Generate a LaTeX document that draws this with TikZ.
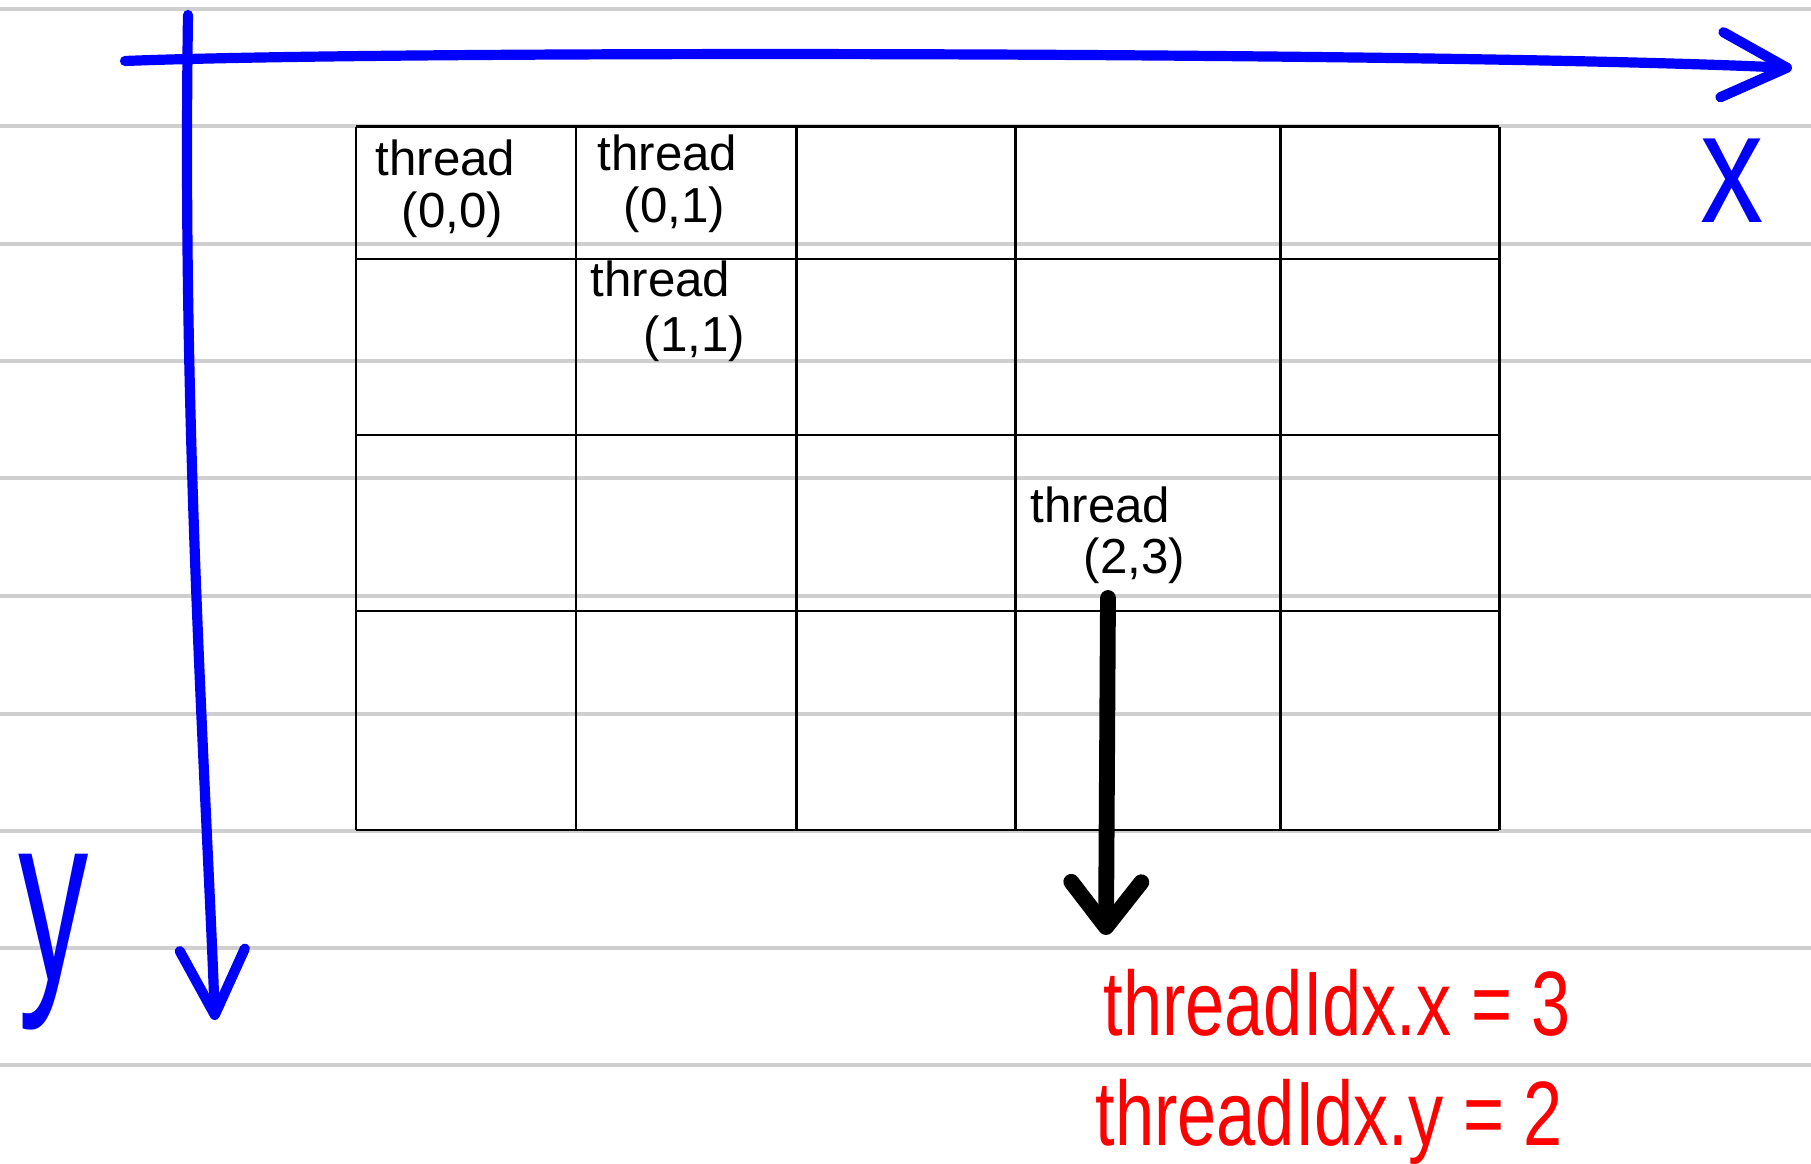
\documentclass[tikz,border=0pt]{standalone}
\usepackage{fontspec}
\setmainfont{Liberation Sans}
\usepackage{graphicx}
\usetikzlibrary{arrows.meta, positioning}
\definecolor{penBlue}{HTML}{0000FF}
\definecolor{penRed}{HTML}{FF0000}
\definecolor{ruleGray}{HTML}{CFCFCF}
\newcommand{\tallish}[2]{\scalebox{1}[#1]{#2}}

\begin{document}
\begin{tikzpicture}[
  x=0.01cm, y=-0.01cm,
  ruleline/.style={draw=ruleGray, line width=0.9pt},
  gridline/.style={draw=black, line width=0.85pt},
  axis/.style={draw=penBlue, line width=2.9pt, line cap=round,
    -{Straight Barb[length=6.5mm, width=6.5mm, round]}},
  pointer/.style={draw=black, line width=4.5pt, line cap=round,
    -{Straight Barb[length=4.5mm, width=7mm, round]}},
  threadtxt/.style={font=\fontsize{14}{16}\selectfont, anchor=base west, inner sep=0pt},
  axistxt/.style={text=penBlue, font=\fontsize{36}{40}\selectfont, inner sep=0pt},
  idxtxt/.style={text=penRed, font=\fontsize{20}{24}\selectfont, anchor=base west, inner sep=0pt},
]
\fill[white] (0,0) rectangle (1811,1164);
\useasboundingbox (0,0) rectangle (1811,1164);

% notebook rules
\foreach \ry in {9,126,244,361,478,596,714,831,948,1065}
  \draw[ruleline] (0,\ry) -- (1811,\ry);

% thread grid
\foreach \gx in {356,576,796,1015,1280,1499}
  \draw[gridline] (\gx,127) -- (\gx,830);
\foreach \gy in {127,259,435,611,830}
  \draw[gridline] (356,\gy) -- (1499,\gy);

% cell labels
\node[threadtxt] (th00) at (375,176) {thread};
\node[threadtxt] (id00) at (401,228) {(0,0)};
\node[threadtxt] (th01) at (597,171) {thread};
\node[threadtxt] (id01) at (623,223) {(0,1)};
\node[threadtxt] (th11) at (590,297) {thread};
\node[threadtxt] (id11) at (643,352) {(1,1)};
\node[threadtxt] (th23) at (1030,523) {thread};
\node[threadtxt] (id23) at (1083,574) {(2,3)};

% axes
\coordinate (xstart) at (125,61);
\coordinate (xend) at (1792,68);
\coordinate (ystart) at (188,15);
\coordinate (yend) at (215,1020);
\draw[axis] (xstart) .. controls (400,50) and (1450,52) .. (xend);
\draw[axis] (ystart) .. controls (182,420) and (205,760) .. (yend);
\node[axistxt] (xlab) at (1732,181) {\tallish{1.25}{x}};
\node[axistxt, font=\fontsize{40}{44}\selectfont] (ylab) at (54,942) {\tallish{1.7}{y}};

% pointer to result
\coordinate (ptop) at (1108,598);
\coordinate (pbot) at (1106,935);
\draw[pointer] (ptop) -- (pbot);
\node[idxtxt] (idxx) at (1103,1035) {\tallish{1.3}{threadIdx.x = 3}};
\node[idxtxt] (idxy) at (1095,1145) {\tallish{1.3}{threadIdx.y = 2}};

\end{tikzpicture}
\end{document}
